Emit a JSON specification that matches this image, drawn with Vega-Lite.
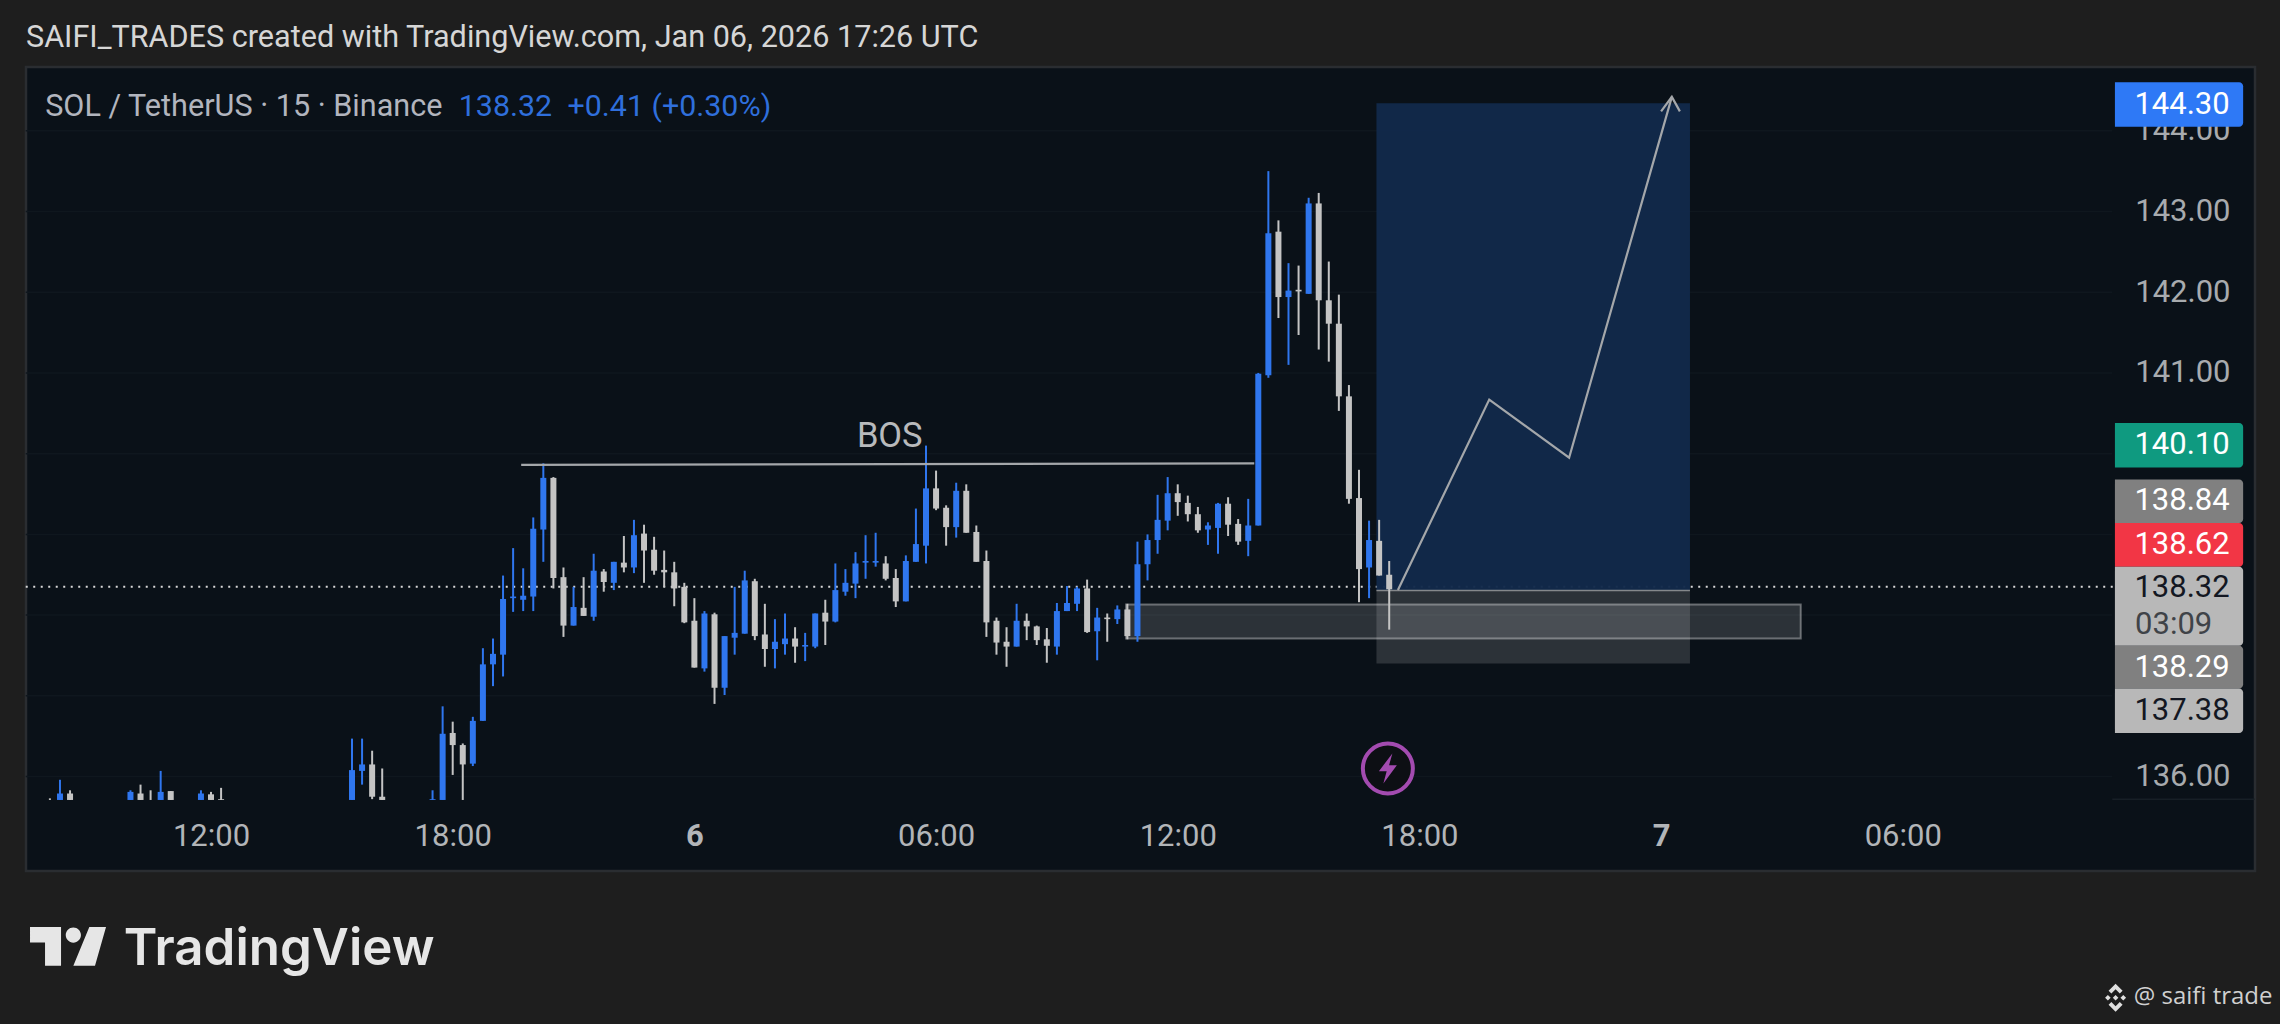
{
  "$schema": "https://vega.github.io/schema/vega-lite/v6.json",
  "autosize": {"type": "none"},
  "width": 2229,
  "height": 804,
  "padding": {"left": 26, "top": 67, "right": 25, "bottom": 153},
  "background": "#1e1e1e",
  "view": {"fill": "#0a1118", "stroke": "#2a2d31", "strokeWidth": 2.5},
  "title": {"text": "SAIFI_TRADES created with TradingView.com, Jan 06, 2026 17:26 UTC", "anchor": "start", "frame": "group", "offset": 13, "font": "Roboto", "fontSize": 30.6, "fontWeight": "normal", "color": "#d6d6d6"},
  "resolve": {"axis": {"y": "independent"}},
  "datasets": {
    "candles": [
      {"t":"2026-01-05T08:00Z","open":135.72,"high":135.73,"low":135.71,"close":135.72},
      {"t":"2026-01-05T08:15Z","open":135.71,"high":135.96,"low":135.71,"close":135.79},
      {"t":"2026-01-05T08:30Z","open":135.79,"high":135.83,"low":135.71,"close":135.71},
      {"t":"2026-01-05T10:00Z","open":135.71,"high":135.83,"low":135.71,"close":135.81},
      {"t":"2026-01-05T10:15Z","open":135.79,"high":135.90,"low":135.71,"close":135.71},
      {"t":"2026-01-05T10:30Z","open":135.71,"high":135.83,"low":135.71,"close":135.71},
      {"t":"2026-01-05T10:45Z","open":135.71,"high":136.07,"low":135.71,"close":135.81},
      {"t":"2026-01-05T11:00Z","open":135.82,"high":135.82,"low":135.71,"close":135.71},
      {"t":"2026-01-05T11:45Z","open":135.71,"high":135.83,"low":135.71,"close":135.79},
      {"t":"2026-01-05T12:00Z","open":135.78,"high":135.81,"low":135.71,"close":135.71},
      {"t":"2026-01-05T12:15Z","open":135.72,"high":135.86,"low":135.71,"close":135.71},
      {"t":"2026-01-05T15:30Z","open":135.71,"high":136.47,"low":135.71,"close":136.08},
      {"t":"2026-01-05T15:45Z","open":136.07,"high":136.47,"low":135.90,"close":136.15},
      {"t":"2026-01-05T16:00Z","open":136.15,"high":136.32,"low":135.72,"close":135.75},
      {"t":"2026-01-05T16:15Z","open":135.75,"high":136.10,"low":135.71,"close":135.71},
      {"t":"2026-01-05T17:30Z","open":135.71,"high":135.83,"low":135.71,"close":135.72},
      {"t":"2026-01-05T17:45Z","open":135.71,"high":136.87,"low":135.71,"close":136.53},
      {"t":"2026-01-05T18:00Z","open":136.54,"high":136.68,"low":136.02,"close":136.39},
      {"t":"2026-01-05T18:15Z","open":136.39,"high":136.41,"low":135.71,"close":136.15},
      {"t":"2026-01-05T18:30Z","open":136.16,"high":136.74,"low":136.13,"close":136.69},
      {"t":"2026-01-05T18:45Z","open":136.69,"high":137.59,"low":136.69,"close":137.39},
      {"t":"2026-01-05T19:00Z","open":137.39,"high":137.71,"low":137.12,"close":137.52},
      {"t":"2026-01-05T19:15Z","open":137.51,"high":138.49,"low":137.24,"close":138.20},
      {"t":"2026-01-05T19:30Z","open":138.21,"high":138.83,"low":138.04,"close":138.23},
      {"t":"2026-01-05T19:45Z","open":138.19,"high":138.58,"low":138.05,"close":138.24},
      {"t":"2026-01-05T20:00Z","open":138.23,"high":139.21,"low":138.05,"close":139.07},
      {"t":"2026-01-05T20:15Z","open":139.06,"high":139.88,"low":138.66,"close":139.70},
      {"t":"2026-01-05T20:30Z","open":139.70,"high":139.71,"low":138.33,"close":138.46},
      {"t":"2026-01-05T20:45Z","open":138.47,"high":138.59,"low":137.73,"close":137.87},
      {"t":"2026-01-05T21:00Z","open":137.87,"high":138.35,"low":137.87,"close":138.10},
      {"t":"2026-01-05T21:15Z","open":138.09,"high":138.47,"low":137.99,"close":137.99},
      {"t":"2026-01-05T21:30Z","open":137.98,"high":138.76,"low":137.93,"close":138.55},
      {"t":"2026-01-05T21:45Z","open":138.54,"high":138.57,"low":138.29,"close":138.41},
      {"t":"2026-01-05T22:00Z","open":138.40,"high":138.66,"low":138.31,"close":138.66},
      {"t":"2026-01-05T22:15Z","open":138.65,"high":138.98,"low":138.53,"close":138.59},
      {"t":"2026-01-05T22:30Z","open":138.59,"high":139.18,"low":138.52,"close":138.99},
      {"t":"2026-01-05T22:45Z","open":139.01,"high":139.12,"low":138.40,"close":138.80},
      {"t":"2026-01-05T23:00Z","open":138.81,"high":138.97,"low":138.50,"close":138.55},
      {"t":"2026-01-05T23:15Z","open":138.56,"high":138.80,"low":138.35,"close":138.53},
      {"t":"2026-01-05T23:30Z","open":138.53,"high":138.66,"low":138.11,"close":138.33},
      {"t":"2026-01-05T23:45Z","open":138.35,"high":138.40,"low":137.90,"close":137.91},
      {"t":"2026-01-06T00:00Z","open":137.93,"high":138.21,"low":137.35,"close":137.35},
      {"t":"2026-01-06T00:15Z","open":137.34,"high":138.05,"low":137.30,"close":138.02},
      {"t":"2026-01-06T00:30Z","open":138.01,"high":138.03,"low":136.90,"close":137.10},
      {"t":"2026-01-06T00:45Z","open":137.10,"high":137.74,"low":137.01,"close":137.74},
      {"t":"2026-01-06T01:00Z","open":137.72,"high":138.35,"low":137.51,"close":137.78},
      {"t":"2026-01-06T01:15Z","open":137.77,"high":138.55,"low":137.77,"close":138.43},
      {"t":"2026-01-06T01:30Z","open":138.42,"high":138.45,"low":137.69,"close":137.74},
      {"t":"2026-01-06T01:45Z","open":137.76,"high":138.14,"low":137.36,"close":137.58},
      {"t":"2026-01-06T02:00Z","open":137.58,"high":137.95,"low":137.34,"close":137.67},
      {"t":"2026-01-06T02:15Z","open":137.64,"high":138.02,"low":137.51,"close":137.71},
      {"t":"2026-01-06T02:30Z","open":137.71,"high":137.85,"low":137.41,"close":137.61},
      {"t":"2026-01-06T02:45Z","open":137.61,"high":137.78,"low":137.43,"close":137.63},
      {"t":"2026-01-06T03:00Z","open":137.61,"high":138.02,"low":137.59,"close":138.02},
      {"t":"2026-01-06T03:15Z","open":138.03,"high":138.19,"low":137.63,"close":137.92},
      {"t":"2026-01-06T03:30Z","open":137.92,"high":138.64,"low":137.91,"close":138.31},
      {"t":"2026-01-06T03:45Z","open":138.29,"high":138.57,"low":138.24,"close":138.40},
      {"t":"2026-01-06T04:00Z","open":138.39,"high":138.78,"low":138.21,"close":138.64},
      {"t":"2026-01-06T04:15Z","open":138.65,"high":138.99,"low":138.45,"close":138.67},
      {"t":"2026-01-06T04:30Z","open":138.65,"high":139.02,"low":138.60,"close":138.67},
      {"t":"2026-01-06T04:45Z","open":138.64,"high":138.73,"low":138.43,"close":138.45},
      {"t":"2026-01-06T05:00Z","open":138.46,"high":138.57,"low":138.10,"close":138.17},
      {"t":"2026-01-06T05:15Z","open":138.17,"high":138.74,"low":138.17,"close":138.67},
      {"t":"2026-01-06T05:30Z","open":138.66,"high":139.32,"low":138.66,"close":138.88},
      {"t":"2026-01-06T05:45Z","open":138.86,"high":140.10,"low":138.64,"close":139.57},
      {"t":"2026-01-06T06:00Z","open":139.57,"high":139.79,"low":139.30,"close":139.32},
      {"t":"2026-01-06T06:15Z","open":139.33,"high":139.36,"low":138.86,"close":139.09},
      {"t":"2026-01-06T06:30Z","open":139.09,"high":139.64,"low":138.96,"close":139.54},
      {"t":"2026-01-06T06:45Z","open":139.54,"high":139.62,"low":139.02,"close":139.02},
      {"t":"2026-01-06T07:00Z","open":139.03,"high":139.11,"low":138.66,"close":138.66},
      {"t":"2026-01-06T07:15Z","open":138.67,"high":138.80,"low":137.73,"close":137.91},
      {"t":"2026-01-06T07:30Z","open":137.93,"high":137.97,"low":137.51,"close":137.66},
      {"t":"2026-01-06T07:45Z","open":137.67,"high":137.85,"low":137.36,"close":137.61},
      {"t":"2026-01-06T08:00Z","open":137.61,"high":138.14,"low":137.61,"close":137.93},
      {"t":"2026-01-06T08:15Z","open":137.93,"high":138.02,"low":137.69,"close":137.86},
      {"t":"2026-01-06T08:30Z","open":137.86,"high":137.87,"low":137.63,"close":137.69},
      {"t":"2026-01-06T08:45Z","open":137.70,"high":137.84,"low":137.41,"close":137.62},
      {"t":"2026-01-06T09:00Z","open":137.61,"high":138.15,"low":137.51,"close":138.05},
      {"t":"2026-01-06T09:15Z","open":138.05,"high":138.36,"low":138.05,"close":138.15},
      {"t":"2026-01-06T09:30Z","open":138.14,"high":138.35,"low":138.05,"close":138.33},
      {"t":"2026-01-06T09:45Z","open":138.33,"high":138.44,"low":137.78,"close":137.79},
      {"t":"2026-01-06T10:00Z","open":137.80,"high":138.09,"low":137.44,"close":137.97},
      {"t":"2026-01-06T10:15Z","open":137.97,"high":138.02,"low":137.67,"close":137.95},
      {"t":"2026-01-06T10:30Z","open":137.95,"high":138.12,"low":137.89,"close":138.07},
      {"t":"2026-01-06T10:45Z","open":138.07,"high":138.14,"low":137.70,"close":137.74},
      {"t":"2026-01-06T11:00Z","open":137.74,"high":138.91,"low":137.67,"close":138.63},
      {"t":"2026-01-06T11:15Z","open":138.63,"high":139.00,"low":138.43,"close":138.93},
      {"t":"2026-01-06T11:30Z","open":138.93,"high":139.49,"low":138.76,"close":139.18},
      {"t":"2026-01-06T11:45Z","open":139.17,"high":139.71,"low":139.05,"close":139.51},
      {"t":"2026-01-06T12:00Z","open":139.51,"high":139.62,"low":139.23,"close":139.40},
      {"t":"2026-01-06T12:15Z","open":139.39,"high":139.48,"low":139.16,"close":139.25},
      {"t":"2026-01-06T12:30Z","open":139.25,"high":139.34,"low":139.02,"close":139.05},
      {"t":"2026-01-06T12:45Z","open":139.06,"high":139.15,"low":138.87,"close":139.11},
      {"t":"2026-01-06T13:00Z","open":139.08,"high":139.39,"low":138.76,"close":139.38},
      {"t":"2026-01-06T13:15Z","open":139.38,"high":139.46,"low":138.98,"close":139.12},
      {"t":"2026-01-06T13:30Z","open":139.13,"high":139.19,"low":138.87,"close":138.91},
      {"t":"2026-01-06T13:45Z","open":138.92,"high":139.44,"low":138.73,"close":139.11},
      {"t":"2026-01-06T14:00Z","open":139.11,"high":141.00,"low":139.11,"close":140.99},
      {"t":"2026-01-06T14:15Z","open":140.97,"high":143.50,"low":140.94,"close":142.73},
      {"t":"2026-01-06T14:30Z","open":142.75,"high":142.89,"low":141.68,"close":141.94},
      {"t":"2026-01-06T14:45Z","open":141.94,"high":142.36,"low":141.10,"close":142.02},
      {"t":"2026-01-06T15:00Z","open":142.03,"high":142.33,"low":141.47,"close":142.01},
      {"t":"2026-01-06T15:15Z","open":141.98,"high":143.17,"low":141.98,"close":143.10},
      {"t":"2026-01-06T15:30Z","open":143.10,"high":143.23,"low":141.29,"close":141.90},
      {"t":"2026-01-06T15:45Z","open":141.90,"high":142.38,"low":141.14,"close":141.61},
      {"t":"2026-01-06T16:00Z","open":141.61,"high":141.97,"low":140.53,"close":140.71},
      {"t":"2026-01-06T16:15Z","open":140.71,"high":140.85,"low":139.38,"close":139.44},
      {"t":"2026-01-06T16:30Z","open":139.45,"high":139.80,"low":138.16,"close":138.57},
      {"t":"2026-01-06T16:45Z","open":138.59,"high":139.17,"low":138.21,"close":138.93},
      {"t":"2026-01-06T17:00Z","open":138.92,"high":139.18,"low":138.49,"close":138.49},
      {"t":"2026-01-06T17:15Z","open":138.50,"high":138.67,"low":137.82,"close":138.32}
    ],
    "grid": [
      {"t":"2026-01-05T07:24Z","t2":"2026-01-07T11:12Z","price":136},
      {"t":"2026-01-05T07:24Z","t2":"2026-01-07T11:12Z","price":137},
      {"t":"2026-01-05T07:24Z","t2":"2026-01-07T11:12Z","price":138},
      {"t":"2026-01-05T07:24Z","t2":"2026-01-07T11:12Z","price":139},
      {"t":"2026-01-05T07:24Z","t2":"2026-01-07T11:12Z","price":140},
      {"t":"2026-01-05T07:24Z","t2":"2026-01-07T11:12Z","price":141},
      {"t":"2026-01-05T07:24Z","t2":"2026-01-07T11:12Z","price":142},
      {"t":"2026-01-05T07:24Z","t2":"2026-01-07T11:12Z","price":143},
      {"t":"2026-01-05T07:24Z","t2":"2026-01-07T11:12Z","price":144}
    ],
    "drawings": [
      {"seg":"bos","t":"2026-01-05T19:42Z","price":139.86},
      {"seg":"bos","t":"2026-01-06T13:54Z","price":139.88},
      {"seg":"path","t":"2026-01-06T17:28Z","price":138.31},
      {"seg":"path","t":"2026-01-06T19:44Z","price":140.67},
      {"seg":"path","t":"2026-01-06T21:43Z","price":139.95},
      {"seg":"path","t":"2026-01-07T00:16Z","price":144.42},
      {"seg":"head","t":"2026-01-07T00:00Z","price":144.24},
      {"seg":"head","t":"2026-01-07T00:16Z","price":144.42},
      {"seg":"head","t":"2026-01-07T00:28Z","price":144.24}
    ],
    "pills": [
      {"t":"2026-01-07T11:16Z","t2":"2026-01-07T14:27Z","top":144.60,"bottom":144.05,"kind":"target"},
      {"t":"2026-01-07T11:16Z","t2":"2026-01-07T14:27Z","top":140.38,"bottom":139.83,"kind":"entry"},
      {"t":"2026-01-07T11:16Z","t2":"2026-01-07T14:27Z","top":139.68,"bottom":139.14,"kind":"ref"},
      {"t":"2026-01-07T11:16Z","t2":"2026-01-07T14:27Z","top":139.14,"bottom":138.60,"kind":"sell"},
      {"t":"2026-01-07T11:16Z","t2":"2026-01-07T14:27Z","top":138.60,"bottom":137.62,"kind":"last"},
      {"t":"2026-01-07T11:16Z","t2":"2026-01-07T14:27Z","top":137.62,"bottom":137.09,"kind":"ref"},
      {"t":"2026-01-07T11:16Z","t2":"2026-01-07T14:27Z","top":137.09,"bottom":136.54,"kind":"last"}
    ],
    "pillText": [
      {"t":"2026-01-07T14:07Z","price":144.32,"text":"144.30","kind":"light"},
      {"t":"2026-01-07T14:07Z","price":140.11,"text":"140.10","kind":"light"},
      {"t":"2026-01-07T14:07Z","price":139.41,"text":"138.84","kind":"light"},
      {"t":"2026-01-07T14:07Z","price":138.87,"text":"138.62","kind":"light"},
      {"t":"2026-01-07T14:07Z","price":138.33,"text":"138.32","kind":"dark"},
      {"t":"2026-01-07T14:07Z","price":137.35,"text":"138.29","kind":"light"},
      {"t":"2026-01-07T14:07Z","price":136.81,"text":"137.38","kind":"dark"}
    ]
  },
  "encoding": {
    "x": {
      "field": "t", "type": "temporal", "title": null,
      "scale": {"type": "utc", "domain": [1767597864000, 1767797080000], "nice": false, "padding": 0},
      "axis": {
        "orient": "bottom", "offset": -35, "grid": false, "domain": false, "ticks": false,
        "values": [1767614400000, 1767636000000, 1767657600000, 1767679200000, 1767700800000, 1767722400000, 1767744000000, 1767765600000],
        "labelExpr": "utchours(datum.value) == 0 ? utcdate(datum.value) : utcFormat(datum.value, '%H:%M')",
        "labelFontWeight": {"condition": {"test": "utchours(datum.value) == 0", "value": "bold"}, "value": "normal"},
        "labelFont": "Roboto", "labelFontSize": 31, "labelColor": "#b2b5b8", "labelBaseline": "middle", "labelPadding": 0, "labelOverlap": false, "labelFlush": false, "labelBound": false
      }
    }
  },
  "layer": [
    {
      "data": {"name": "grid"},
      "mark": {"type": "rule", "color": "#0f171e", "strokeWidth": 1.5},
      "encoding": {
        "x2": {"field": "t2"},
        "y": {
          "field": "price", "type": "quantitative", "title": null,
          "scale": {"domain": [134.83, 144.79], "nice": false, "zero": false},
          "axis": {
            "orient": "right", "offset": -25, "values": [136, 141, 142, 143, 144], "format": ".2f",
            "grid": false, "domain": false, "ticks": false,
            "labelAlign": "right", "labelBaseline": "middle", "labelPadding": 0, "labelOverlap": false, "labelFlush": false, "labelBound": false,
            "labelFont": "Roboto", "labelFontSize": 31, "labelColor": "#a8abae"
          }
        }
      }
    },
    {
      "data": {"values": [{"t": "2026-01-07T11:12Z", "t2": "2026-01-07T14:44Z", "price": 135.72}]},
      "mark": {"type": "rule", "color": "#171f26", "strokeWidth": 1.5},
      "encoding": {"x2": {"field": "t2"}, "y": {"field": "price", "type": "quantitative", "axis": null}}
    },
    {
      "data": {"values": [{"t": "2026-01-05T07:24Z", "t2": "2026-01-07T11:16Z", "price": 138.35}]},
      "mark": {"type": "rule", "color": "#d8d8d8", "strokeWidth": 2, "strokeDash": [2, 5.5]},
      "encoding": {"x2": {"field": "t2"}, "y": {"field": "price", "type": "quantitative", "axis": null}}
    },
    {
      "data": {"values": [{"t": "2026-01-06T16:56Z", "t2": "2026-01-07T00:43Z", "top": 144.34, "bottom": 138.31}]},
      "mark": {"type": "rect", "color": "#12294a", "opacity": 0.97},
      "encoding": {"x2": {"field": "t2"}, "y": {"field": "top", "type": "quantitative", "axis": null}, "y2": {"field": "bottom"}}
    },
    {
      "data": {"values": [{"t": "2026-01-06T16:56Z", "t2": "2026-01-07T00:43Z", "top": 138.31, "bottom": 137.40}]},
      "mark": {"type": "rect", "color": "#ffffff", "opacity": 0.14},
      "encoding": {"x2": {"field": "t2"}, "y": {"field": "top", "type": "quantitative", "axis": null}, "y2": {"field": "bottom"}}
    },
    {
      "data": {"values": [{"t": "2026-01-06T16:56Z", "t2": "2026-01-07T00:43Z", "price": 138.305}]},
      "mark": {"type": "rule", "color": "#85888b", "strokeWidth": 1.5},
      "encoding": {"x2": {"field": "t2"}, "y": {"field": "price", "type": "quantitative", "axis": null}}
    },
    {
      "data": {"values": [{"t": "2026-01-06T10:43Z", "t2": "2026-01-07T03:28Z", "top": 138.13, "bottom": 137.71}]},
      "mark": {"type": "rect", "fill": "#ffffff", "fillOpacity": 0.14, "stroke": "#ffffff", "strokeOpacity": 0.35, "strokeWidth": 2},
      "encoding": {"x2": {"field": "t2"}, "y": {"field": "top", "type": "quantitative", "axis": null}, "y2": {"field": "bottom"}}
    },
    {
      "data": {"name": "candles"},
      "mark": {"type": "rule", "strokeWidth": 2},
      "encoding": {
        "y": {"field": "low", "type": "quantitative", "axis": null},
        "y2": {"field": "high"},
        "color": {"condition": {"test": "datum.close > datum.open", "value": "#2f76ee"}, "value": "#c4c4c4"}
      }
    },
    {
      "data": {"name": "candles"},
      "mark": {"type": "bar", "size": 6},
      "encoding": {
        "y": {"field": "open", "type": "quantitative", "axis": null},
        "y2": {"field": "close"},
        "color": {"condition": {"test": "datum.close > datum.open", "value": "#2f76ee"}, "value": "#c4c4c4"}
      }
    },
    {
      "data": {"name": "drawings"},
      "mark": {"type": "line", "color": "#a4a7aa", "strokeWidth": 2.2},
      "encoding": {
        "detail": {"field": "seg"},
        "order": {"field": "t", "type": "temporal"},
        "y": {"field": "price", "type": "quantitative", "axis": null}
      }
    },
    {
      "data": {"values": [{"t": "2026-01-06T04:51Z", "price": 140.21, "text": "BOS"}]},
      "mark": {"type": "text", "font": "Roboto", "fontSize": 34.5, "color": "#b8babc", "align": "center", "baseline": "middle"},
      "encoding": {"y": {"field": "price", "type": "quantitative", "axis": null}, "text": {"field": "text"}}
    },
    {
      "data": {"values": [{"t": "2026-01-05T07:53Z", "price": 144.29, "text": "SOL / TetherUS · 15 · Binance"}]},
      "mark": {"type": "text", "font": "Roboto", "fontSize": 30.6, "color": "#b2b5be", "align": "left", "baseline": "middle"},
      "encoding": {"y": {"field": "price", "type": "quantitative", "axis": null}, "text": {"field": "text"}}
    },
    {
      "data": {"values": [{"t": "2026-01-05T18:09Z", "price": 144.29, "text": "138.32"}, {"t": "2026-01-05T20:51Z", "price": 144.29, "text": "+0.41 (+0.30%)"}]},
      "mark": {"type": "text", "font": "Roboto", "fontSize": 30.4, "color": "#2f6fdc", "align": "left", "baseline": "middle"},
      "encoding": {"y": {"field": "price", "type": "quantitative", "axis": null}, "text": {"field": "text"}}
    },
    {
      "data": {"values": [{"t": "2026-01-06T17:13Z", "price": 136.10}]},
      "mark": {"type": "point", "shape": "circle", "size": 2500, "fill": "#0d0f14", "fillOpacity": 1, "stroke": "#a34bb0", "strokeWidth": 4, "opacity": 1},
      "encoding": {"y": {"field": "price", "type": "quantitative", "axis": null}}
    },
    {
      "data": {"values": [{"t": "2026-01-06T17:13Z", "price": 136.10}]},
      "mark": {"type": "point", "shape": "M0.3,-1 L-0.6,0.18 L-0.08,0.18 L-0.3,1 L0.6,-0.22 L0.08,-0.22 Z", "size": 900, "filled": true, "color": "#a34bb0", "opacity": 1},
      "encoding": {"y": {"field": "price", "type": "quantitative", "axis": null}}
    },
    {
      "data": {"name": "pills"},
      "mark": {"type": "rect", "cornerRadiusTopRight": 4, "cornerRadiusBottomRight": 4},
      "encoding": {
        "x2": {"field": "t2"},
        "y": {"field": "top", "type": "quantitative", "axis": null},
        "y2": {"field": "bottom"},
        "color": {
          "field": "kind", "type": "nominal", "legend": null,
          "scale": {"domain": ["target", "entry", "ref", "sell", "last"], "range": ["#2e79f6", "#0f9a80", "#808080", "#f23645", "#b8b8b8"]}
        }
      }
    },
    {
      "data": {"name": "pillText"},
      "mark": {"type": "text", "font": "Roboto", "fontSize": 31, "align": "right", "baseline": "middle"},
      "encoding": {
        "y": {"field": "price", "type": "quantitative", "axis": null},
        "text": {"field": "text"},
        "color": {"condition": {"test": "datum.kind == 'dark'", "value": "#131722"}, "value": "#ffffff"}
      }
    },
    {
      "data": {"values": [{"t": "2026-01-07T13:41Z", "price": 137.88, "text": "03:09"}]},
      "mark": {"type": "text", "font": "Roboto", "fontSize": 31, "color": "#3f4348", "align": "right", "baseline": "middle"},
      "encoding": {"y": {"field": "price", "type": "quantitative", "axis": null}, "text": {"field": "text"}}
    },
    {
      "data": {"values": [{"t": "2026-01-05T08:27Z", "price": 133.90}]},
      "mark": {
        "type": "point", "filled": true, "size": 5776, "color": "#e6e6e6", "opacity": 1, "clip": false,
        "shape": "M-1,-0.5 L-0.184,-0.5 L-0.184,0.518 L-0.605,0.518 L-0.605,-0.097 L-1,-0.097 Z M-0.06,-0.29 a0.2,0.2 0 1,0 0.4,0 a0.2,0.2 0 1,0 -0.4,0 Z M0.56,-0.5 L1,-0.5 L0.71,0.518 L0.14,0.518 Z"
      },
      "encoding": {"y": {"field": "price", "type": "quantitative", "axis": null}}
    },
    {
      "data": {"values": [{"t": "2026-01-05T09:50Z", "price": 133.66, "text": "TradingView"}]},
      "mark": {"type": "text", "font": "Inter", "fontWeight": 600, "fontSize": 51, "color": "#e6e6e6", "align": "left", "baseline": "alphabetic"},
      "encoding": {"y": {"field": "price", "type": "quantitative", "axis": null}, "text": {"field": "text"}}
    },
    {
      "data": {"values": [{"t": "2026-01-07T11:17Z", "price": 133.26}]},
      "mark": {
        "type": "point", "filled": true, "size": 784, "color": "#e0e0e0", "opacity": 1,
        "shape": "M0,-0.2 L0.2,0 L0,0.2 L-0.2,0 Z M-0.75,0 L-0.55,-0.2 L-0.35,0 L-0.55,0.2 Z M0.75,0 L0.55,-0.2 L0.35,0 L0.55,0.2 Z M0,-1 L0.5,-0.5 L0.3,-0.3 L0,-0.6 L-0.3,-0.3 L-0.5,-0.5 Z M0,1 L0.5,0.5 L0.3,0.3 L0,0.6 L-0.3,0.3 L-0.5,0.5 Z"
      },
      "encoding": {"y": {"field": "price", "type": "quantitative", "axis": null}}
    },
    {
      "data": {"values": [{"t": "2026-01-07T11:44Z", "price": 133.27, "text": "@ saifi trade"}]},
      "mark": {"type": "text", "font": "Open Sans", "fontSize": 24, "color": "#d0d0d0", "align": "left", "baseline": "middle"},
      "encoding": {"y": {"field": "price", "type": "quantitative", "axis": null}, "text": {"field": "text"}}
    }
  ]
}
